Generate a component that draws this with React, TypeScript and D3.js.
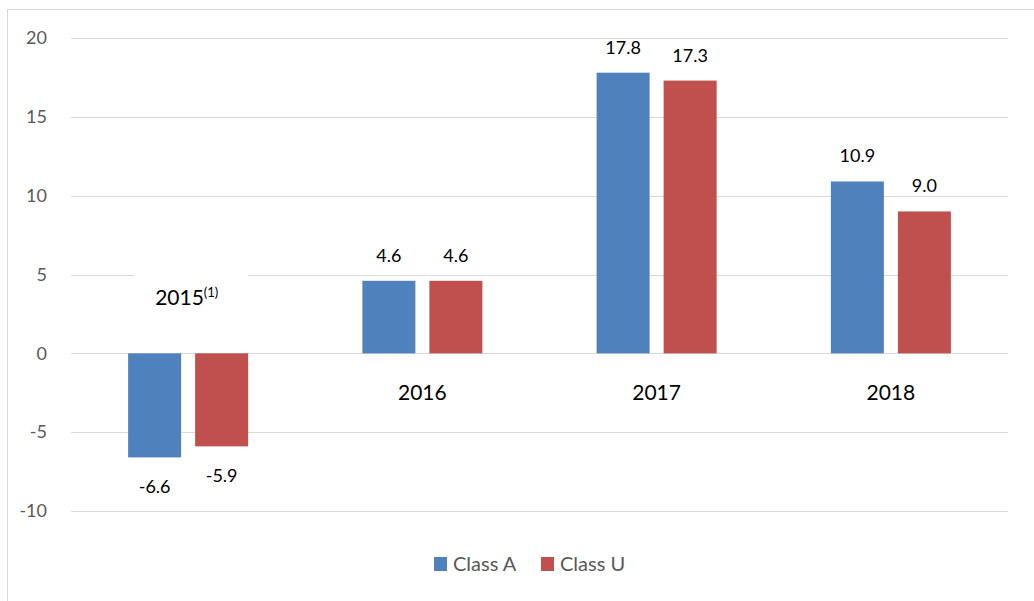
import React from "react";
import * as d3 from "d3";

const categories = ["2015", "2016", "2017", "2018"];
const classA = [-6.6, 4.6, 17.8, 10.9];
const classU = [-5.9, 4.6, 17.3, 9.0];
const yTicks = [-10, -5, 0, 5, 10, 15, 20];
const seriesNames = ["Class A", "Class U"];
const colors = ["#4F81BD", "#C0504D"];

const W = 1034, H = 601;
const FONT = "Lato, 'Open Sans', sans-serif";

export default function App() {
  const x0 = d3.scaleBand().domain(categories).range([71, 1008]);
  const y = d3.scaleLinear().domain([-10, 20]).range([511, 38]);
  const barW = 53, gap = 14;
  const series = [classA, classU];

  return (
    <svg width={W} height={H} style={{ position: "absolute", left: 0, top: 0, background: "#fff" }}>
      <rect x={7.5} y={9.5} width={1040} height={620} fill="#fff" stroke="#d9d9d9" strokeWidth={1} />
      {yTicks.map(t => (
        <g key={t}>
          <line x1={71} x2={1008} y1={Math.round(y(t)) + 0.5} y2={Math.round(y(t)) + 0.5} stroke="#d9d9d9" strokeWidth={1.2} />
          <text x={47} y={y(t)} dy="0.35em" textAnchor="end" fontFamily={FONT} fontSize={18} fill="#595959">{t}</text>
        </g>
      ))}
      {categories.map((c, i) => {
        const cx = x0(c)! + x0.bandwidth() / 2;
        return (
          <g key={c}>
            {series.map((s, k) => {
              const v = s[i];
              const bx = k === 0 ? cx - gap / 2 - barW : cx + gap / 2;
              const top = y(Math.max(0, v));
              const h = Math.abs(y(v) - y(0));
              const ly = v >= 0 ? y(v) - 19 : y(v) + 36;
              return (
                <g key={k}>
                  <rect x={bx} y={top} width={barW} height={h} fill={colors[k]} />
                  <text x={bx + barW / 2} y={ly} textAnchor="middle" fontFamily={FONT} fontSize={18} fill="#000">{v.toFixed(1)}</text>
                </g>
              );
            })}
          </g>
        );
      })}
      {categories.map((c, i) => {
        const cx = x0(c)! + x0.bandwidth() / 2;
        const neg = classA[i] < 0;
        if (neg) {
          return (
            <g key={c}>
              <rect x={cx - 54} y={y(5) - 4} width={114} height={30} fill="#fff" />
              <text x={cx - 33} y={y(0) - 48} fontFamily={FONT} fontSize={21} fill="#000">
                {c}
                <tspan fontSize={13} dy={-8}>(1)</tspan>
              </text>
            </g>
          );
        }
        return (
          <text key={c} x={cx} y={y(0) + 47} textAnchor="middle" fontFamily={FONT} fontSize={21} fill="#000">{c}</text>
        );
      })}
      {seriesNames.map((n, k) => {
        const lx = k === 0 ? 434 : 541;
        return (
          <g key={n}>
            <rect x={lx} y={557} width={13} height={14} fill={colors[k]} />
            <text x={lx + 19} y={564} dy="0.35em" fontFamily={FONT} fontSize={20} fill="#595959">{n}</text>
          </g>
        );
      })}
    </svg>
  );
}
